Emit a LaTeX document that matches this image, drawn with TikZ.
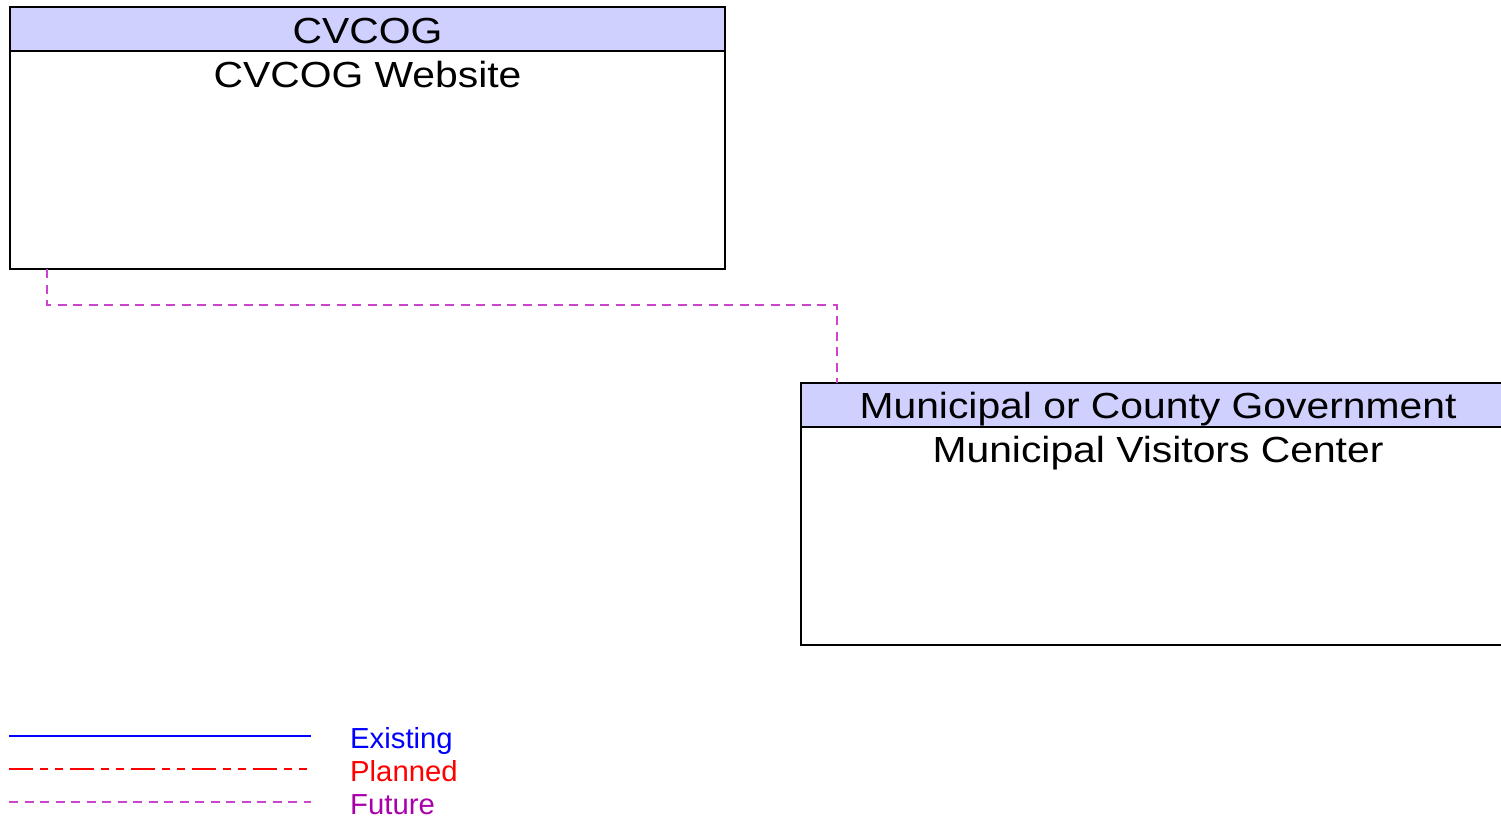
\documentclass[tikz,border=0pt]{standalone}
\usepackage{fontspec}
\setmainfont{Liberation Sans}
\newfontfamily\boxfont[FakeStretch=1.125]{Liberation Sans}
\newfontfamily\legfont[FakeStretch=1.01]{Liberation Sans}
\definecolor{hdrfill}{RGB}{208,208,255}
\definecolor{futline}{RGB}{204,68,204}
\definecolor{futtext}{RGB}{170,0,170}
\definecolor{planline}{RGB}{255,0,0}
\tikzset{
  boxshape/.style={draw=black, line width=1.2pt, fill=white, rectangle, inner sep=0pt, outer sep=0pt, minimum width=715pt, minimum height=262pt, anchor=north west},
  hdrshape/.style={draw=black, line width=1.2pt, fill=hdrfill, rectangle, inner sep=0pt, outer sep=0pt, minimum width=715pt, minimum height=44pt, anchor=north west},
  boxtext/.style={inner sep=0pt, anchor=base, font=\boxfont\fontsize{36.3}{40}\selectfont},
  legtext/.style={inner sep=0pt, anchor=base west, font=\legfont\fontsize{29}{32}\selectfont},
  futureline/.style={color=futline, line width=1.1pt, dash pattern=on 9pt off 6.5pt},
  plannedline/.style={color=planline, line width=1.1pt, dash pattern=on 24pt off 7pt on 8pt off 7pt on 8pt off 7pt},
  existingline/.style={color=blue, line width=2pt},
}
\begin{document}
\begin{tikzpicture}[x=1pt, y=-1pt]
\useasboundingbox (0,0) rectangle (1501,820);
\clip (0,0) rectangle (1501,820);
\fill[white] (0,0) rectangle (1501,820);

% CVCOG box
\node[boxshape] (web) at (10,7) {};
\node[hdrshape] (webh) at (10,7) {};
\node[boxtext] (webht) at (367.5,43) {CVCOG};
\node[boxtext] (webt) at (367.5,87.5) {CVCOG Website};

% Municipal box
\node[boxshape] (mvc) at (801,383) {};
\node[hdrshape] (mvch) at (801,383) {};
\node[boxtext] (mvcht) at (1158,418) {Municipal or County Government};
\node[boxtext] (mvct) at (1158,462.5) {Municipal Visitors Center};

% connector
\coordinate (c1) at (47,305);
\coordinate (c2) at (837,305);
\draw[futureline] ([xshift=37pt]web.south west) -- (c1) -- (c2) -- ([xshift=36pt]mvch.north west);

% legend
\coordinate (l1a) at (9,736);
\coordinate (l1b) at (311,736);
\coordinate (l2a) at (9,769);
\coordinate (l2b) at (311,769);
\coordinate (l3a) at (9,802);
\coordinate (l3b) at (311,802);
\draw[existingline] (l1a) -- (l1b);
\draw[plannedline] (l2a) -- (l2b);
\draw[futureline] (l3a) -- (l3b);
\node[legtext, text=blue] (lex) at (350,748) {Existing};
\node[legtext, text=red] (lpl) at (350,781.5) {Planned};
\node[legtext, text=futtext] (lfu) at (350,814.5) {Future};
\end{tikzpicture}
\end{document}
